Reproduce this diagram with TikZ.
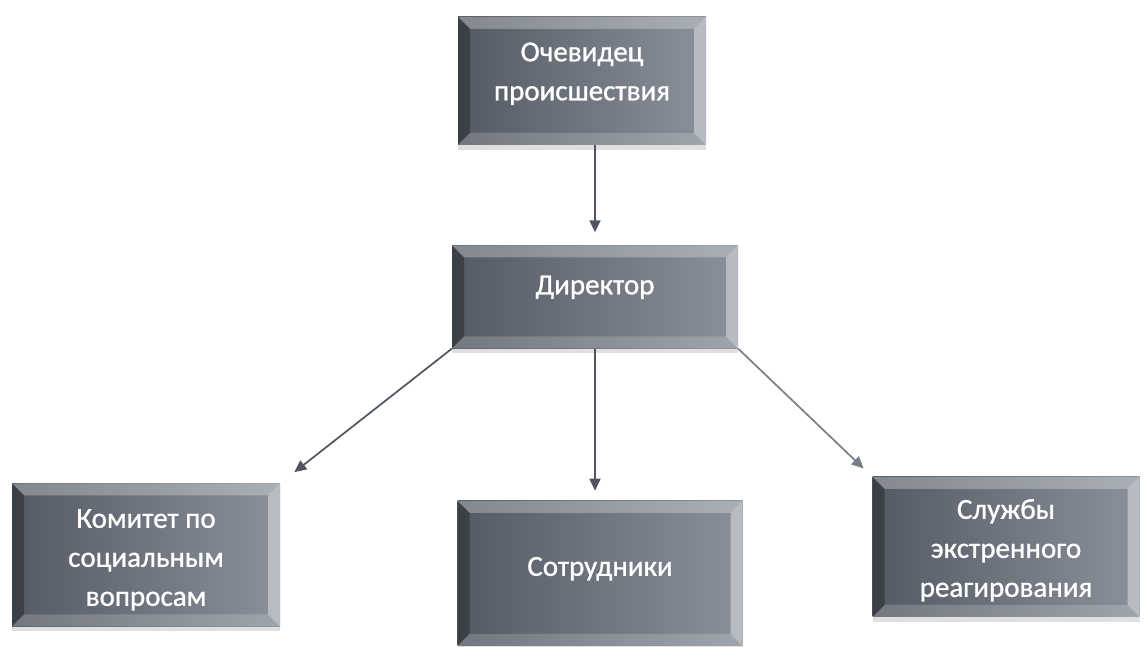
\documentclass[tikz,border=0pt]{standalone}
\usepackage{fontspec}
\setmainfont{Carlito}
\newfontfamily\boxfont[FakeBold=1]{Carlito}
\usetikzlibrary{positioning,arrows.meta,shadows}
\definecolor{boxdark}{RGB}{84,90,100}
\definecolor{boxlight}{RGB}{138,145,155}
\definecolor{linkgray}{RGB}{78,84,96}
\definecolor{linklight}{RGB}{120,126,136}

\begin{document}
\begin{tikzpicture}[%
        x=1pt, y=1pt,
        >={Triangle[length=12pt,width=11pt]},
        bevelbox/.style={%
          rectangle,
          align=center,
          inner sep=0pt,
          text=white,
          font=\boxfont\fontsize{29}{39}\selectfont,
          left color=boxdark, right color=boxlight,
          drop shadow={shadow xshift=0pt, shadow yshift=-5pt, opacity=.25, fill=gray},
          path picture={%
            \fill[white, opacity=.28] (path picture bounding box.north west) -- (path picture bounding box.north east)
              -- ++(-12pt,-12pt) -- ([shift={(12pt,-12pt)}]path picture bounding box.north west) -- cycle;
            \fill[black, opacity=.3] (path picture bounding box.north west) -- (path picture bounding box.south west)
              -- ++(12pt,12pt) -- ([shift={(12pt,-12pt)}]path picture bounding box.north west) -- cycle;
            \fill[white, opacity=.4] (path picture bounding box.north east) -- (path picture bounding box.south east)
              -- ++(-12pt,12pt) -- ([shift={(-12pt,-12pt)}]path picture bounding box.north east) -- cycle;
            \fill[white, opacity=.18] (path picture bounding box.south west) -- (path picture bounding box.south east)
              -- ++(-12pt,12pt) -- ([shift={(12pt,12pt)}]path picture bounding box.south west) -- cycle;
          }
        },
        link/.style={->, line width=1.7pt, draw=linkgray}
      ]
      \useasboundingbox (0,0) rectangle (1146,647);

      \node[bevelbox, minimum width=248pt, minimum height=128pt] (witness) at (582,566) {\raisebox{0pt}[\height][\dimexpr\depth+16pt\relax]{\begin{tabular}{@{}c@{}}Очевидец\\происшествия\end{tabular}}};
      \node[bevelbox, minimum width=286pt, minimum height=103pt] (director) at (595,350) {\raisebox{24pt}{Директор}};
      \node[bevelbox, minimum width=268pt, minimum height=143pt] (committee) at (146,92) {\raisebox{0pt}[\dimexpr\height+8pt\relax]{\begin{tabular}{@{}c@{}}Комитет по\\социальным\\вопросам\end{tabular}}};
      \node[bevelbox, minimum width=285pt, minimum height=145pt, xshift=5pt] (staff) [below=152pt of director] {\raisebox{14pt}{Сотрудники}};
      \node[bevelbox, minimum width=267pt, minimum height=140pt] (services) at (1006,100) {\raisebox{0pt}[\dimexpr\height+6pt\relax]{\begin{tabular}{@{}c@{}}Службы\\экстренного\\реагирования\end{tabular}}};

      \draw[link, shorten >=13pt] (witness.south -| director.north) -- (director.north);
      \draw[link, shorten >=18pt] (director.south west) -- (committee.north east);
      \draw[link, shorten >=10pt] (director.south) -- (director.south |- staff.north);
      \draw[link, draw=linklight, shorten >=12pt] (director.south east) -- (services.north west);

  \end{tikzpicture}
\end{document}
